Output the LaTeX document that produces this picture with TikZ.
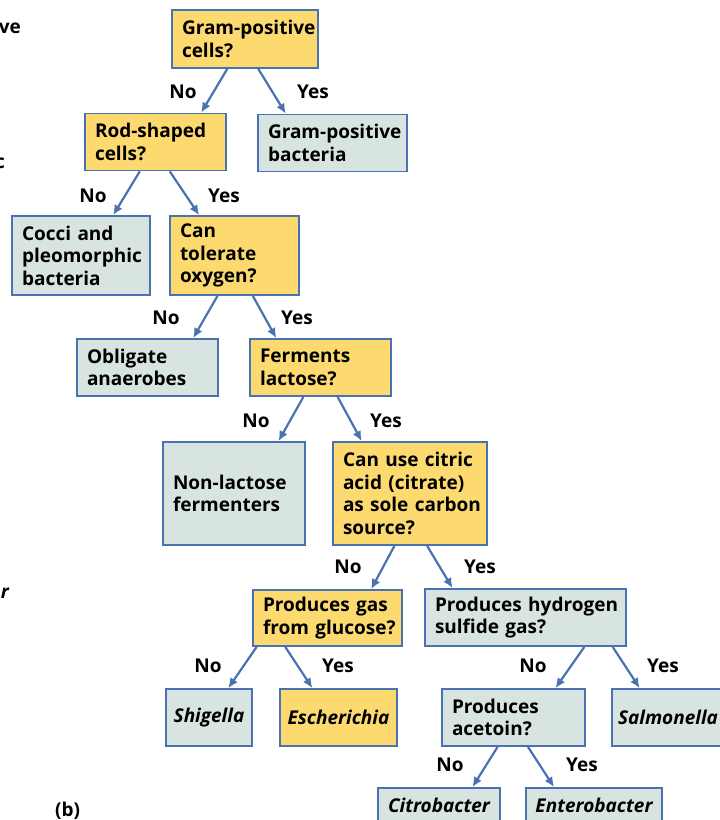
\documentclass[tikz,border=0pt]{standalone}
\usepackage{fontspec}
\setmainfont{Open Sans}
\usetikzlibrary{arrows.meta, calc}
\definecolor{qyellow}{RGB}{252,218,112}
\definecolor{rgrey}{RGB}{216,228,226}
\definecolor{lblue}{RGB}{74,114,176}
\newcommand{\boxfont}{\fontsize{19}{22.5}\selectfont\bfseries}

\begin{document}
\begin{tikzpicture}[x=1pt,y=-1pt,
  qbox/.style={draw=lblue,line width=1.8pt,fill=qyellow,align=left,
               font=\boxfont,inner xsep=10pt,inner ysep=0pt},
  rbox/.style={qbox,fill=rgrey},
  gbox/.style={rbox,align=center,font=\boxfont\itshape,inner xsep=4pt},
  arr/.style={-{Latex[length=10pt,width=9pt]},lblue,line width=2.2pt},
  lbl/.style={font=\boxfont,inner sep=0pt}
]
\clip (0,0) rectangle (720,820);
% fragments of the neighbouring panel
\node[lbl,anchor=base east] (fa) at (21,33) {ve};
\node[lbl,anchor=base east] (fb) at (5,168) {c};
\node[lbl,anchor=base east,font=\boxfont\itshape] (fc) at (9,598) {r};
\node[lbl,anchor=base west] (fd) at (55,816) {(b)};

% boxes (text width = box width - 20pt)
\node[qbox,text width=126pt,minimum height=58pt]  (gram)   at (245,39)      {\mbox{Gram-positive}\\cells?};
\node[qbox,text width=121pt,minimum height=57pt]  (rod)    at (155.5,142)   {Rod-shaped\\cells?};
\node[rbox,text width=129pt,minimum height=57pt]  (gpb)    at (332.5,143)   {\mbox{Gram-positive}\\bacteria};
\node[rbox,text width=118pt,minimum height=79pt]  (cocci)  at (81,255.5)    {Cocci and\\\mbox{pleomorphic}\\bacteria};
\node[qbox,text width=109pt,minimum height=79pt]  (oxy)    at (234.5,255.5) {Can\\tolerate\\oxygen?};
\node[rbox,text width=121pt,minimum height=57pt]  (oblig)  at (147.5,367.5) {Obligate\\anaerobes};
\node[qbox,text width=121pt,minimum height=57pt]  (ferm)   at (320.5,367.5) {Ferments\\lactose?};
\node[rbox,text width=122pt,minimum height=103pt] (nonlac) at (234,493.5)   {Non-lactose\\fermenters};
\node[qbox,text width=134pt,minimum height=103pt] (citric) at (410,493.5)   {Can use citric\\acid (citrate)\\\mbox{as sole carbon}\\source?};
\node[qbox,text width=129pt,minimum height=56pt]  (gas)    at (327.5,618)   {Produces gas\\\mbox{from glucose?}};
\node[rbox,text width=181pt,minimum height=57pt]  (hydro)  at (525.5,617.5) {\mbox{Produces hydrogen}\\sulfide gas?};
\node[gbox,minimum width=86pt,minimum height=57pt]   (shig)   at (209,717.5)   {Shigella};
\node[gbox,fill=qyellow,minimum width=117pt,minimum height=57pt] (esch) at (338.5,717.5) {Escherichia};
\node[rbox,text width=123pt,minimum height=57pt]  (acet)   at (513.5,717.5) {Produces\\acetoin?};
\node[gbox,align=left,inner xsep=6pt,text width=116pt,minimum height=57pt] (salm) at (676,717.5) {Salmonella};
\node[gbox,minimum width=122pt,minimum height=34pt]  (citro)  at (439,805)     {Citrobacter};
\node[gbox,minimum width=136pt,minimum height=34pt]  (entero) at (594,805)     {Enterobacter};

% branches
\draw[arr] ($(gram.south west)!0.38!(gram.south east)$) -- ($(rod.north west)!0.82!(rod.north east)$);
\draw[arr] ($(gram.south west)!0.59!(gram.south east)$) -- ($(gpb.north west)!0.19!(gpb.north east)$);
\draw[arr] ($(rod.south west)!0.39!(rod.south east)$) -- ($(cocci.north west)!0.73!(cocci.north east)$);
\draw[arr] ($(rod.south west)!0.60!(rod.south east)$) -- ($(oxy.north west)!0.23!(oxy.north east)$);
\draw[arr] ($(oxy.south west)!0.37!(oxy.south east)$) -- ($(oblig.north west)!0.82!(oblig.north east)$);
\draw[arr] ($(oxy.south west)!0.64!(oxy.south east)$) -- ($(ferm.north west)!0.19!(ferm.north east)$);
\draw[arr] ($(ferm.south west)!0.38!(ferm.south east)$) -- ($(nonlac.north west)!0.81!(nonlac.north east)$);
\draw[arr] ($(ferm.south west)!0.62!(ferm.south east)$) -- ($(citric.north west)!0.19!(citric.north east)$);
\draw[arr] ($(citric.south west)!0.40!(citric.south east)$) -- ($(gas.north west)!0.79!(gas.north east)$);
\draw[arr] ($(citric.south west)!0.61!(citric.south east)$) -- ($(hydro.north west)!0.14!(hydro.north east)$);
\draw[arr] ($(gas.south west)!0.03!(gas.south east)$) -- ($(shig.north west)!0.72!(shig.north east)$);
\draw[arr] ($(gas.south west)!0.22!(gas.south east)$) -- ($(esch.north west)!0.28!(esch.north east)$);
\draw[arr] ($(hydro.south west)!0.79!(hydro.south east)$) -- ($(acet.north west)!0.79!(acet.north east)$);
\draw[arr] ($(hydro.south west)!0.93!(hydro.south east)$) -- ($(salm.north west)!0.22!(salm.north east)$);
\draw[arr] ($(acet.south west)!0.39!(acet.south east)$) -- ($(citro.north west)!0.77!(citro.north east)$);
\draw[arr] ($(acet.south west)!0.60!(acet.south east)$) -- ($(entero.north west)!0.21!(entero.north east)$);

% answers
\node[lbl] (n1) at (183,92)  {No};  \node[lbl] (y1) at (313,92)  {Yes};
\node[lbl] (n2) at (93,196)  {No};  \node[lbl] (y2) at (224,196) {Yes};
\node[lbl] (n3) at (166,318) {No};  \node[lbl] (y3) at (297,318) {Yes};
\node[lbl] (n4) at (256,421) {No};  \node[lbl] (y4) at (386,421) {Yes};
\node[lbl] (n5) at (348,567) {No};  \node[lbl] (y5) at (480,567) {Yes};
\node[lbl] (n6) at (208,666) {No};  \node[lbl] (y6) at (338,666) {Yes};
\node[lbl] (n7) at (533,666) {No};  \node[lbl] (y7) at (663,666) {Yes};
\node[lbl] (n8) at (450,765) {No};  \node[lbl] (y8) at (582,765) {Yes};
\end{tikzpicture}
\end{document}
